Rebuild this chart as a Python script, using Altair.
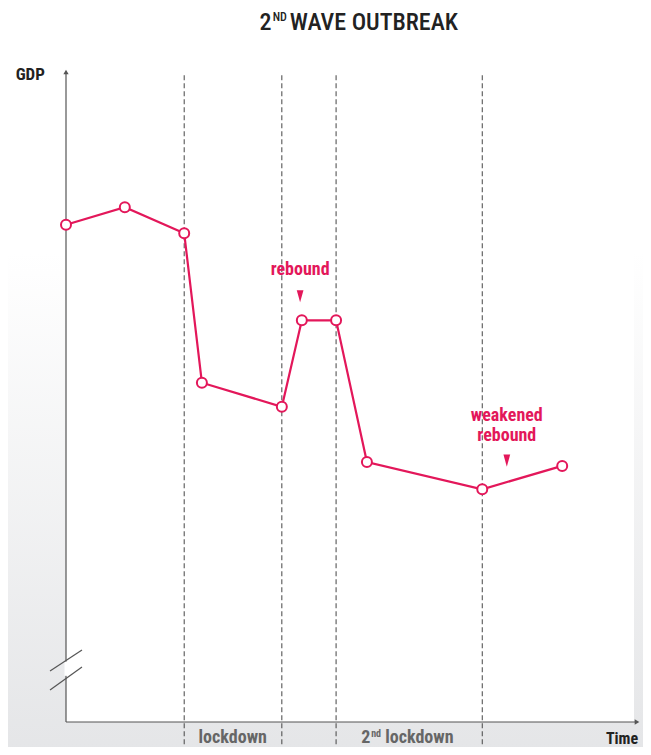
import altair as alt
import pandas as pd

# ---- data -------------------------------------------------------------
time_pts = [0.0, 1.03, 2.07, 2.38, 3.78, 4.13, 4.73, 5.27, 7.29, 8.69]
gdp_pts = [76.5, 79.2, 75.2, 52.2, 48.5, 61.8, 61.8, 40.0, 35.8, 39.4]
phase_bounds = [2.07, 3.78, 4.73, 7.29]

PINK = "#e3175a"
GREY = "#555555"
FONT = "'Roboto Condensed', 'Liberation Sans Narrow', 'DejaVu Sans Condensed', Roboto, sans-serif"

W, H = 571, 650
XS = alt.Scale(domain=[0, 10])
YS = alt.Scale(domain=[0, 100])


def X(f="x"):
    return alt.X(f"{f}:Q", scale=XS, axis=None)


def Y(f="y"):
    return alt.Y(f"{f}:Q", scale=YS, axis=None)


one = pd.DataFrame({"a": [0]})

# background gradient (whole canvas) and white plot panel
bg = alt.Chart(one).mark_rect(
    color=alt.Gradient(
        gradient="linear", x1=0, x2=0, y1=0, y2=1,
        stops=[alt.GradientStop(color="#ffffff", offset=0),
               alt.GradientStop(color="#ffffff", offset=0.33),
               alt.GradientStop(color="#e4e5e7", offset=1)],
    )
).encode(x=alt.value(-60), x2=alt.value(W + 20), y=alt.value(-70), y2=alt.value(H + 40))

panel = alt.Chart(one).mark_rect(color="white").encode(
    x=alt.value(0), x2=alt.value(W - 3), y=alt.value(-70), y2=alt.value(H)
)

# dashed phase boundaries
dash_df = pd.DataFrame({"x": phase_bounds, "y": [99.5] * 4, "y2": [-4.0] * 4})
dashes = alt.Chart(dash_df).mark_rule(color="#444444", strokeWidth=1, strokeDash=[5, 3]).encode(
    x=X(), y=Y(), y2="y2:Q"
)

# axes drawn as rules
axes_df = pd.DataFrame({"x": [0, 0], "x2": [0, 10], "y": [0, 0], "y2": [100, 0]})
axes = alt.Chart(axes_df).mark_rule(color=GREY, strokeWidth=1.2).encode(
    x=X(), x2="x2:Q", y=Y(), y2="y2:Q"
)
arrow_df = pd.DataFrame({"x": [0, 10.0], "y": [100, 0], "shape": ["triangle-up", "triangle-right"]})
arrows = alt.Chart(arrow_df).mark_point(filled=True, color=GREY, size=28, opacity=1).encode(
    x=X(), y=Y(), shape=alt.Shape("shape:N", scale=None, legend=None)
)

# axis break
gap = alt.Chart(pd.DataFrame({"x": [0], "y": [7.1], "y2": [9.3]})).mark_rule(
    color="white", strokeWidth=3
).encode(x=X(), y=Y(), y2="y2:Q")
brk_df = pd.DataFrame({"x": [-0.28, -0.28], "x2": [0.28, 0.28], "y": [7.85, 4.92], "y2": [11.08, 8.46]})
brk = alt.Chart(brk_df).mark_rule(color=GREY, strokeWidth=1.2).encode(
    x=X(), x2="x2:Q", y=Y(), y2="y2:Q"
)

# GDP series
series = pd.DataFrame({"x": time_pts, "y": gdp_pts})
line = alt.Chart(series).mark_line(color=PINK, strokeWidth=2.2).encode(x=X(), y=Y())
pts = alt.Chart(series).mark_point(
    shape="circle", filled=True, fill="white", stroke=PINK, strokeWidth=2, size=100, opacity=1
).encode(x=X(), y=Y())

# annotation triangles (narrow, pointing down)
tri = alt.Chart(pd.DataFrame({"x": [4.1, 7.72], "y": [65.5, 40.2]})).mark_point(
    shape="M-0.55,-1L0.55,-1L0,1Z", filled=True, color=PINK, size=150, opacity=1
).encode(x=X(), y=Y())


def txt(rows, size, color, weight="bold", align="center", baseline="middle"):
    df = pd.DataFrame(rows, columns=["x", "y", "t"])
    return alt.Chart(df).mark_text(
        font=FONT, fontSize=size, color=color, fontWeight=weight, align=align, baseline=baseline
    ).encode(x=X(), y=Y(), text="t:N")


pink_labels = txt([(4.1, 69.6, "rebound"), (7.72, 47.05, "weakened"), (7.72, 44.0, "rebound")], 18, PINK)
phase_labels = txt([(2.92, -2.45, "lockdown")], 18, "#666666")
second_2 = txt([(5.33, -2.45, "2")], 18, "#666666", align="right")
second_nd = txt([(5.345, -1.85, "nd")], 10, "#666666", align="left")
second_lock = txt([(5.59, -2.45, "lockdown")], 18, "#666666", align="left")
gdp_lab = txt([(-0.37, 99.6, "GDP")], 17, "#222222", align="right")
time_lab = txt([(10.02, -2.6, "Time")], 16, "#222222", align="right")
title_2 = txt([(3.6, 107.6, "2")], 24, "#222222", weight=500, align="right")
title_nd = txt([(3.62, 108.45, "ND")], 12, "#222222", weight=500, align="left")
title_main = txt([(3.92, 107.6, "WAVE OUTBREAK")], 24, "#222222", weight=500, align="left")

chart = alt.layer(
    bg, panel, dashes, axes, arrows, gap, brk, line, pts, tri,
    pink_labels, phase_labels, second_2, second_nd, second_lock,
    gdp_lab, time_lab, title_2, title_nd, title_main,
).properties(
    width=W, height=H,
    autosize=alt.AutoSizeParams(type="none"),
    padding={"left": 58, "top": 64, "right": 6, "bottom": 25},
).configure_view(stroke=None).configure(background="white")

chart.save("out.html", embed_options={"renderer": "svg", "actions": False})
